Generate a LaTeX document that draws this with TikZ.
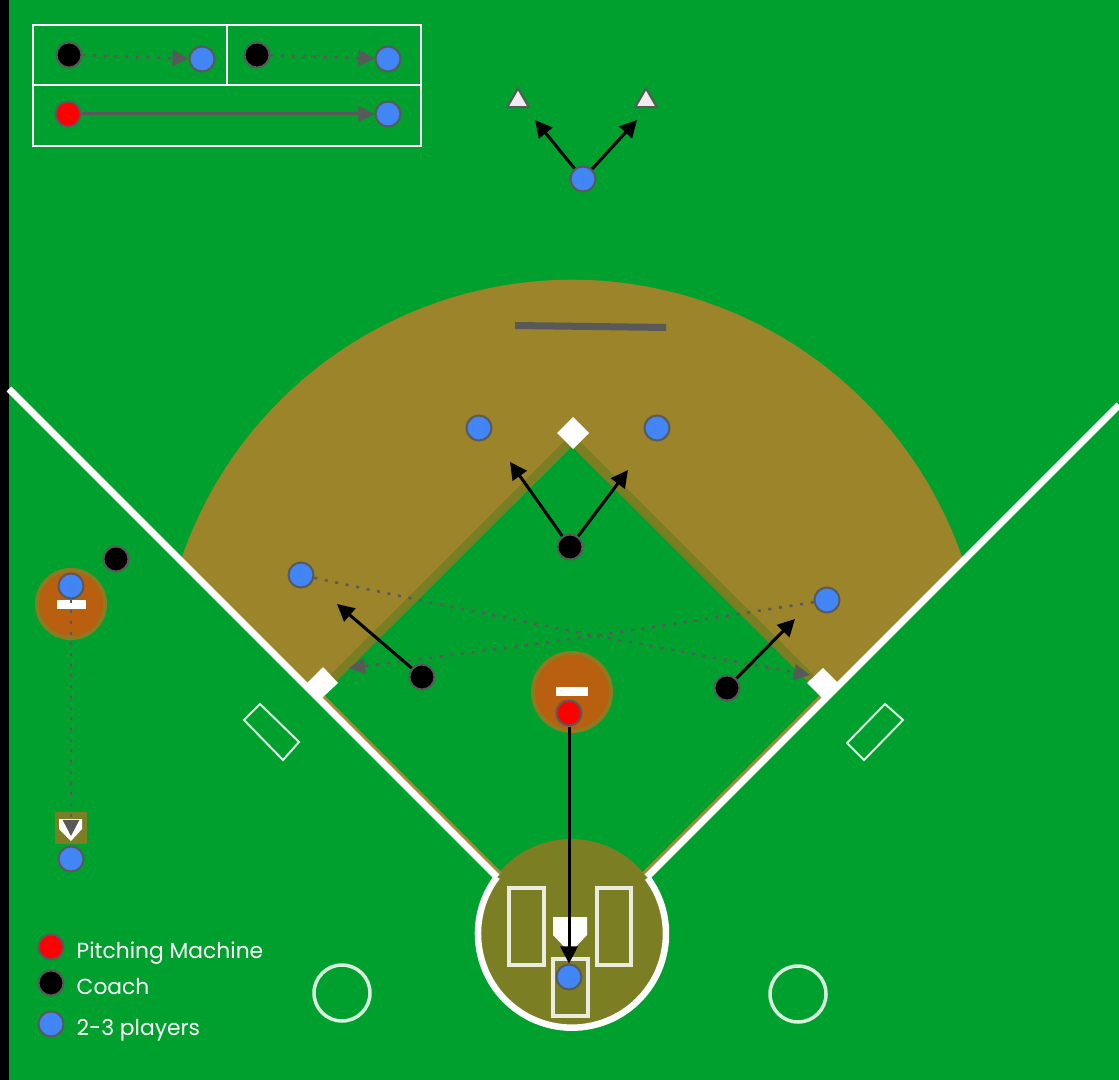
\documentclass[tikz,border=0pt]{standalone}
\usepackage{xcolor}
\usepackage{fontspec}
\setmainfont{Poppins}
\usetikzlibrary{arrows.meta,positioning,shapes.geometric}
\definecolor{fieldgreen}{HTML}{00A02E}
\definecolor{dirt}{HTML}{9C842A}
\definecolor{olive}{HTML}{7B7E22}
\definecolor{mound}{HTML}{B85F10}
\definecolor{moundedge}{HTML}{8F7A20}
\definecolor{tan}{HTML}{A68A3A}
\definecolor{playerblue}{HTML}{4285F4}
\definecolor{rimgray}{HTML}{595959}

\begin{document}
\begin{tikzpicture}[
  x=0.01cm, y=-0.01cm,
  marker/.style={circle, draw=rimgray, line width=0.2mm, inner sep=0pt, minimum size=0.25cm},
  player/.style={marker, fill=playerblue},
  coach/.style={marker, fill=black},
  machine/.style={marker, fill=red},
  cone/.style={regular polygon, regular polygon sides=3, draw=rimgray, fill=white!93!black, line width=0.2mm, inner sep=0pt, minimum size=0.25cm},
  legendtext/.style={text=white, anchor=base west, inner sep=0pt, font=\fontsize{6.2pt}{8pt}\selectfont},
  run/.style={-{Triangle[length=1.7mm,width=1.7mm]}, black, line width=0.3mm},
  hit/.style={-{Triangle[length=1.6mm,width=1.5mm]}, rimgray, line width=0.3mm},
  throw/.style={-{Triangle[length=1.6mm,width=1.6mm]}, rimgray, line width=0.25mm, dash pattern=on 0.3mm off 0.77mm},
  chalk/.style={draw=white, opacity=0.85, line width=0.35mm},
  thinchalk/.style={chalk, line width=0.2mm},
  frame/.style={draw=white, line width=0.2mm}
]
  \useasboundingbox (0,0) rectangle (1119,1080);
  \fill[fieldgreen] (0,0) rectangle (1119,1080);
  \fill[black] (0,0) rectangle (9,1080);

  \fill[dirt] (182,557) arc[start angle=199.2, end angle=340.8, radius=413]
    -- (963,561) -- (839,685) -- (814,681.5) -- (572,440) -- (330,681.5) -- (305,685) -- (182,562) -- cycle;
  \draw[olive, line width=0.9mm] (330,681.5) -- (572,440) -- (814,681.5);
  \fill[rimgray] (515,322) -- (666,324) -- (666,331) -- (515,329) -- cycle;

  \fill[olive] (571,933) circle (94);
  \draw[tan, line width=0.3mm] (323.5,696.5) -- (500.5,873.5);
  \draw[tan, line width=0.3mm] (820.5,696.5) -- (643.5,873.5);
  \draw[white, line width=0.7mm] (9,389) -- (497,877);
  \draw[white, line width=0.7mm] (1119,405) -- (647,877);
  \draw[white, line width=0.65mm] (497,877) arc[start angle=217.1, end angle=-36.4, radius=94];

  \draw[chalk] (509,888) rectangle (544,965);
  \draw[chalk] (597,888) rectangle (631,965);
  \draw[chalk] (553,959) rectangle (588,1016);
  \fill[white] (553,917) -- (587,917) -- (587,935) -- (570,953) -- (553,935) -- cycle;

  \fill[white] (573,417) -- (589,433) -- (573,449) -- (557,433) -- cycle;
  \fill[white] (323,667) -- (338,683) -- (322,698) -- (307,683) -- cycle;
  \fill[white] (823,668) -- (838,683) -- (823,699) -- (807,683) -- cycle;

  \draw[thinchalk] (260,704) -- (299,742) -- (283,760) -- (244,720) -- cycle;
  \draw[thinchalk] (885,704) -- (903,720) -- (864,760) -- (847,743) -- cycle;
  \draw[chalk] (342,993) circle (28);
  \draw[chalk] (798,994) circle (28);

  \fill[mound, draw=moundedge, line width=0.4mm] (572,692) circle (39);
  \fill[white] (556,687) rectangle (588,696);
  \fill[mound, draw=moundedge, line width=0.4mm] (71,604) circle (34);
  \fill[white] (57,600) rectangle (86,609);
  \fill[olive] (55,812) rectangle (87,844);
  \fill[white] (59,819) -- (82,819) -- (82,829) -- (71,841) -- (59,829) -- cycle;

  \draw[frame] (33,25) rectangle (421,146);
  \draw[frame] (33,85) -- (421,85);
  \draw[frame] (227,25) -- (227,85);

  \node[coach] (keycoacha) at (69,55) {};
  \node[player] (keyplayera) at (202,59) {};
  \node[coach] (keycoachb) at (257,55) {};
  \node[player] (keyplayerb) at (388,59) {};
  \node[machine] (keymachine) at (68,114) {};
  \node[player] (keyplayerc) at (388,114) {};

  \node[cone] (coneleft) at (518,101) {};
  \node[cone] (coneright) at (646,101) {};
  \node[player] (deep) at (583,179) {};
  \coordinate (deepleft) at (535,120);
  \coordinate (deepright) at (637,120);

  \node[player] (second) at (479,428) {};
  \node[player] (short) at (657,428) {};
  \node[coach] (middle) at (570,547) {};
  \coordinate (middleleft) at (510,462);
  \coordinate (middleright) at (628,470);

  \node[player] (third) at (301,575) {};
  \node[player] (first) at (827,600) {};
  \node[coach] (coachleft) at (422,677) {};
  \node[coach] (coachright) at (727,688) {};
  \coordinate (leftgap) at (337,604);
  \coordinate (rightgap) at (795,619);
  \coordinate (thirdbag) at (349,668);
  \coordinate (firstbag) at (810,675);

  \node[machine] (pitch) at (569,713) {};
  \node[player] (batter) at (569,977) {};

  \node[player] (sidemound) at (71,586) {};
  \node[coach] (sidecoach) at (116,559) {};
  \node[player] (sidebatter) at (71,859) {};
  \coordinate (sideplate) at (71,836);

  \draw[throw] (keycoacha) -- (keyplayera);
  \draw[throw] (keycoachb) -- (keyplayerb);
  \draw[hit] (keymachine) -- (keyplayerc);
  \draw[run] (deep) -- (deepleft);
  \draw[run] (deep) -- (deepright);
  \draw[run] (middle) -- (middleleft);
  \draw[run] (middle) -- (middleright);
  \draw[run] (coachleft) -- (leftgap);
  \draw[run] (coachright) -- (rightgap);
  \draw[run] (pitch) -- (batter);
  \draw[throw] (third) to[bend right=1] (firstbag);
  \draw[throw] (first) to[bend left=1] (thirdbag);
  \draw[throw] (sidemound) -- (sideplate);

  \node[machine] (keyred) at (51,947) {};
  \node[coach] (keyblack) at (51,983) {};
  \node[player] (keyblue) at (51,1024) {};
  \node[legendtext] (labelred) at (76,958) {Pitching Machine};
  \node[legendtext] (labelblack) at (76,994) {Coach};
  \node[legendtext] (labelblue) at (76,1035) {2-3 players};
\end{tikzpicture}
\end{document}
